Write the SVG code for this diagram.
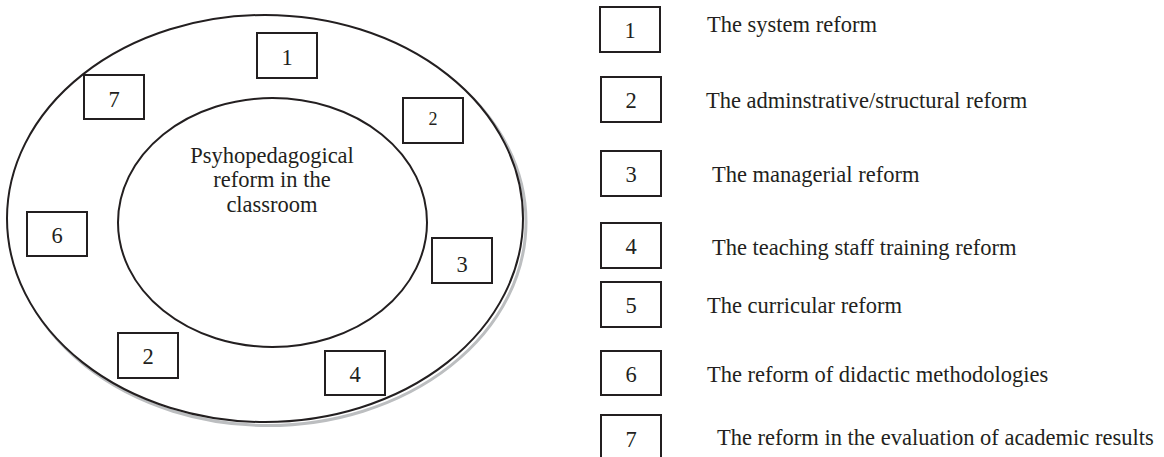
<svg xmlns="http://www.w3.org/2000/svg" width="1164" height="457" viewBox="0 0 1164 457">
<style>
text{font-family:"Liberation Serif","Times New Roman",serif;fill:#231f20;font-size:22.5px}
.num{text-anchor:middle}
.box{fill:#fff;stroke:#231f20;stroke-width:2}
.ell{fill:#fff;stroke:#231f20;stroke-width:2}
</style>
<rect width="1164" height="457" fill="#fff"/>
<g id="outer">
<ellipse cx="268" cy="222" rx="258" ry="203.5" fill="none" stroke="#bcbec0" stroke-width="3"/>
<ellipse class="ell" cx="265" cy="218.5" rx="258" ry="203.5"/>
</g>
<g id="inner">
<ellipse class="ell" cx="272.5" cy="222.5" rx="154.5" ry="124.5"/>
<text class="num" x="272" y="163">Psyhopedagogical</text>
<text class="num" x="272" y="187">reform in the</text>
<text class="num" x="272" y="212">classroom</text>
</g>
<g id="d1"><rect class="box" x="257" y="33" width="60" height="45"/><text class="num" x="287" y="65">1</text></g>
<g id="d7"><rect class="box" x="84" y="75" width="60" height="44"/><text class="num" x="114" y="107">7</text></g>
<g id="d2a"><rect class="box" x="403" y="98" width="60" height="45"/><text class="num" x="433" y="125" style="font-size:18px">2</text></g>
<g id="d6"><rect class="box" x="27" y="212" width="60" height="44"/><text class="num" x="57" y="243">6</text></g>
<g id="d3"><rect class="box" x="432" y="238" width="60" height="45"/><text class="num" x="462" y="272">3</text></g>
<g id="d2b"><rect class="box" x="118" y="333" width="60" height="45"/><text class="num" x="148" y="364">2</text></g>
<g id="d4"><rect class="box" x="325" y="351" width="60" height="44"/><text class="num" x="355" y="382">4</text></g>
<g id="l1"><rect class="box" x="600" y="7" width="60" height="45"/><text class="num" x="630" y="38">1</text><text x="707" y="32">The system reform</text></g>
<g id="l2"><rect class="box" x="601" y="77" width="60" height="45"/><text class="num" x="631" y="108">2</text><text x="706" y="108">The adminstrative/structural reform</text></g>
<g id="l3"><rect class="box" x="601" y="151" width="60" height="45"/><text class="num" x="631" y="182">3</text><text x="712" y="182">The managerial reform</text></g>
<g id="l4"><rect class="box" x="601" y="223" width="60" height="45"/><text class="num" x="631" y="254">4</text><text x="712" y="255">The teaching staff training reform</text></g>
<g id="l5"><rect class="box" x="601" y="282" width="60" height="45"/><text class="num" x="631" y="313">5</text><text x="707" y="313">The curricular reform</text></g>
<g id="l6"><rect class="box" x="601" y="351" width="60" height="44"/><text class="num" x="631" y="382">6</text><text x="707" y="382">The reform of didactic methodologies</text></g>
<g id="l7"><rect class="box" x="601" y="415" width="60" height="60"/><text class="num" x="631" y="447">7</text><text x="717" y="445">The reform in the evaluation of academic results</text></g>
</svg>
